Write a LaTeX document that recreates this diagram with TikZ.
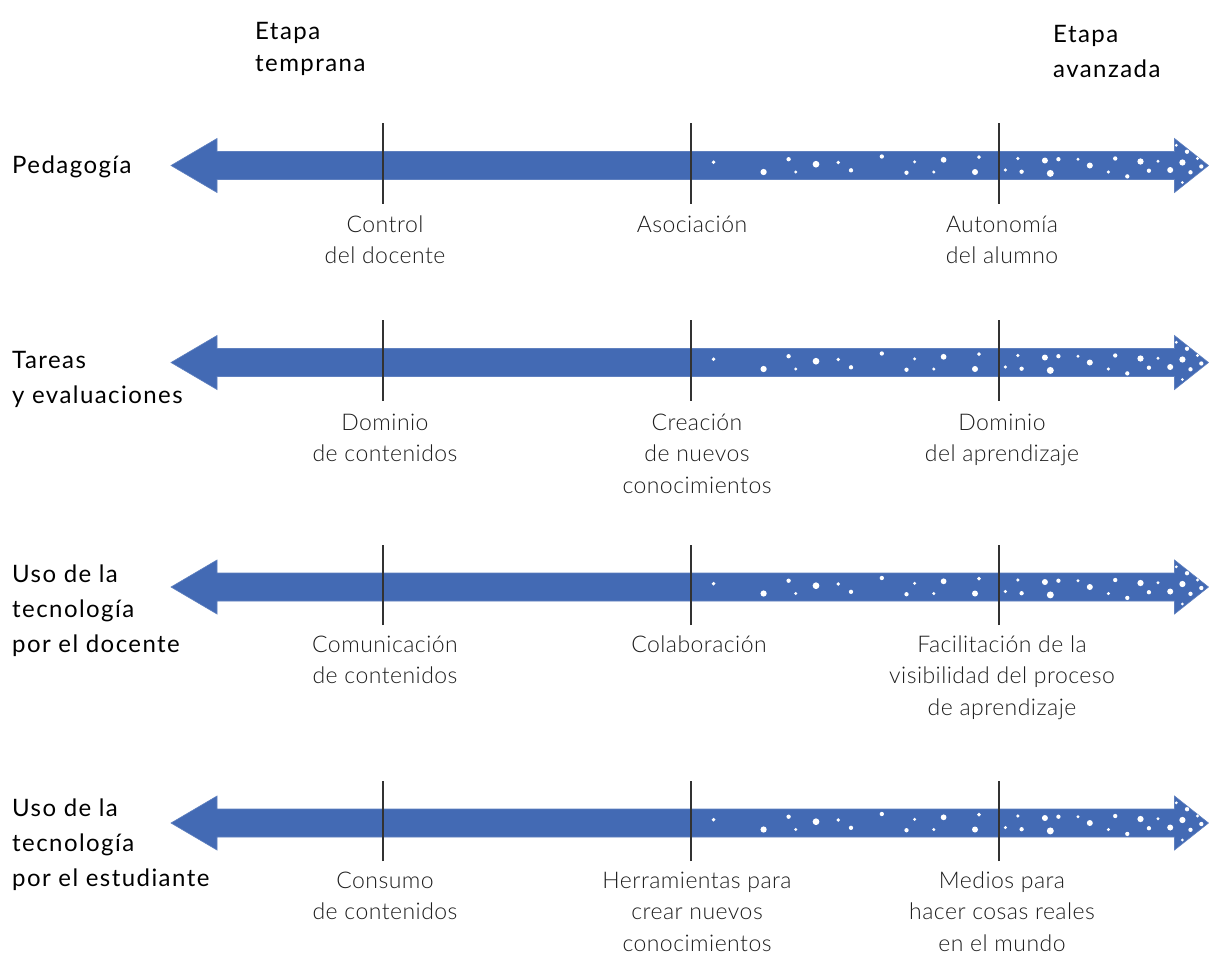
\documentclass[tikz,border=0pt]{standalone}
\usepackage{fontspec}
\setmainfont{Lato}
\newfontfamily\catfont[LetterSpace=6]{Lato}
\newfontfamily\lightfont[LetterSpace=2]{Lato Light}
\definecolor{arrowblue}{RGB}{67,106,180}
\definecolor{tickgray}{RGB}{50,50,50}
\definecolor{labelgray}{RGB}{30,30,30}
\tikzset{
  cat/.style={anchor=base west, align=left, inner sep=0pt, font=\catfont\fontsize{24}{35}\selectfont, text=black},
  head/.style={anchor=base west, align=left, inner sep=0pt, font=\catfont\fontsize{24}{32}\selectfont, text=black},
  stage/.style={anchor=base, align=center, inner sep=0pt, font=\lightfont\fontsize{23}{31.5}\selectfont, text=labelgray},
  tickline/.style={draw=tickgray, line width=2pt},
  bigarrow/.style={fill=arrowblue, draw=arrowblue!85!white, line width=0.6pt},
  dot/.style={fill=white, draw=none}
}
\newcommand{\rowarrow}[2]{%
  \path[bigarrow] (171,#2) -- (217,#2-27) -- (217,#2-14) -- (1174.5,#2-14) -- (1174.5,#2-27)
     -- (1208.5,#2) -- (1174.5,#2+27) -- (1174.5,#2+14) -- (217,#2+14) -- (217,#2+27) -- cycle;
  \coordinate (#1-a) at (382.5,#2);
  \coordinate (#1-b) at (691,#2);
  \coordinate (#1-c) at (999,#2);
  \foreach \dx/\dy/\r in {713.6/-3.3/1.6, 763.6/6.5/2.6, 788.6/-6.3/1.8, 795.7/6.5/1.3,
    816/-1.3/2.8, 838.2/-3/1.6, 851/4.8/1.8, 881.8/-9/1.8, 906.5/7.2/1.8, 914.6/-3.6/1.4,
    933.8/6.5/1.4, 943.6/-5.7/2.4, 975/6.5/2.5, 979/-8.4/1.6, 1005.4/4.5/1.4, 1017.9/-7/1.5,
    1021.6/6.2/1.8, 1044.9/-5/2.5, 1050.3/7.9/2.9, 1058.4/-6.3/1.8, 1078/-6.3/1.4,
    1089.8/0/2.5, 1108.4/6.5/1.4, 1115.2/-7/1.8, 1127.3/10.9/1.8, 1140.5/-4/2.6,
    1148.9/5.2/1.8, 1158/-4.3/1.4, 1170.2/4.5/2.5, 1176.3/-20.2/1.3, 1182.4/-3/2.6,
    1187/-13.8/1.8, 1190.5/6.8/1.8, 1182.4/17/1.3, 1197.5/-7/1.3, 1201.3/1/1.8}
    {\fill[dot] (\dx,#2+\dy) circle[radius=1.2*\r];}
  \foreach \t in {a,b,c}{\draw[tickline] ([yshift=-38]#1-\t) -- ([yshift=42.5]#1-\t);}
}
\begin{document}
\begin{tikzpicture}[x=1pt,y=-1pt]
\useasboundingbox (0,0) rectangle (1209,954);
\fill[white] (0,0) rectangle (1209,954);

% headers (anchor = baseline of last line)
\node[head] (early) at (255,71) {Etapa\\temprana};
\node[head] (late) at (1053,77) {Etapa\\[3pt]avanzada};

% rows
\rowarrow{r1}{165.5}
\rowarrow{r2}{362.5}
\rowarrow{r3}{587}
\rowarrow{r4}{823}

% category labels (anchor = baseline of last line)
\node[cat] (c1) at (12,173) {Pedagogía};
\node[cat] (c2) at (12,403) {Tareas\\y evaluaciones};
\node[cat] (c3) at (12,652) {Uso de la\\tecnología\\por el docente};
\node[cat] (c4) at (12,886) {Uso de la\\tecnología\\por el estudiante};

% stage labels (anchor = baseline of last line)
\node[stage] (l11) at (385,263.5) {Control\\del docente};
\node[stage] (l12) at (692,232) {Asociación};
\node[stage] (l13) at (1002,263.5) {Autonomía\\del alumno};

\node[stage] (l21) at (385,461.5) {Dominio\\de contenidos};
\node[stage] (l22) at (697,493) {Creación\\de nuevos\\conocimientos};
\node[stage] (l23) at (1002,461.5) {Dominio\\del aprendizaje};

\node[stage] (l31) at (385,683.5) {Comunicación\\de contenidos};
\node[stage] (l32) at (699,652) {Colaboración};
\node[stage] (l33) at (1002,715) {Facilitación de la\\visibilidad del proceso\\de aprendizaje};

\node[stage] (l41) at (385,919.5) {Consumo\\de contenidos};
\node[stage] (l42) at (697,951) {Herramientas para\\crear nuevos\\conocimientos};
\node[stage] (l43) at (1002,951) {Medios para\\hacer cosas reales\\en el mundo};
\end{tikzpicture}
\end{document}
